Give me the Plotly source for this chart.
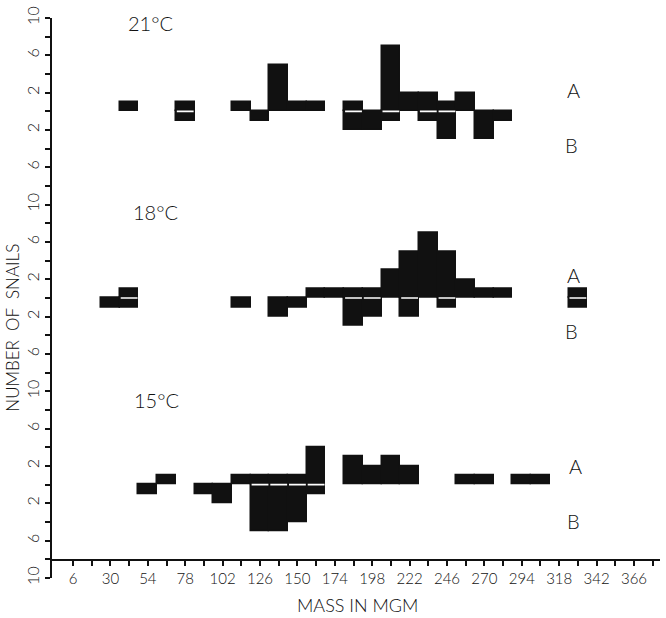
import plotly.graph_objects as go

# ---------------- data (bin centres in mg, bins 12 mg wide) ----------------
bin_width = 12

mass_21 = [42, 78, 114, 126, 138, 150, 162, 186, 198, 210, 222, 234, 246, 258, 270, 282]
a_21 = [1, 1, 1, 0, 5, 1, 1, 1, 0, 7, 2, 2, 1, 2, 0, 0]
b_21 = [0, 1, 0, 1, 0, 0, 0, 2, 2, 1, 0, 1, 3, 0, 3, 1]

mass_18 = [30, 42, 114, 138, 150, 162, 174, 186, 198, 210, 222, 234, 246, 258, 270, 282, 330]
a_18 = [0, 1, 0, 0, 0, 1, 1, 1, 1, 3, 5, 7, 5, 2, 1, 1, 1]
b_18 = [1, 1, 1, 2, 1, 0, 0, 3, 2, 0, 2, 0, 1, 0, 0, 0, 1]

mass_15 = [54, 66, 90, 102, 114, 126, 138, 150, 162, 186, 198, 210, 222, 258, 270, 294, 306]
a_15 = [0, 1, 0, 0, 1, 1, 1, 1, 4, 3, 2, 3, 2, 1, 1, 1, 1]
b_15 = [1, 0, 1, 2, 0, 5, 5, 4, 1, 0, 0, 0, 0, 0, 0, 0, 0]

panels = [("21°C", mass_21, a_21, b_21), ("18°C", mass_18, a_18, b_18), ("15°C", mass_15, a_15, b_15)]

x_tickvals = list(range(6, 379, 12))
x_ticktext = [str(v) if (v - 6) % 24 == 0 else "" for v in x_tickvals]
y_tickvals = list(range(-10, 11, 2))

# ---------------- layout geometry helpers ----------------
W, H = 666, 618
ML, MR, MT, MB = 52, 6, 12, 40
PW, PH = W - ML - MR, H - MT - MB


def px_x(px):
    return (px - ML) / PW


def px_y(py):
    return (H - MB - py) / PH


FONT = "Lato"
WEIGHT = 300
INK = "#111111"

fig = go.Figure()
yaxes = ["y", "y2", "y3"]
for (label, mass, a, b), ya in zip(panels, yaxes):
    fig.add_trace(go.Bar(
        x=mass, y=[v if v else None for v in a], width=bin_width,
        marker=dict(color=INK, line=dict(color=INK, width=1.5)),
        xaxis="x", yaxis=ya, showlegend=False, hoverinfo="skip"))
    fig.add_trace(go.Bar(
        x=mass, y=[-v if v else None for v in b], width=bin_width,
        marker=dict(color=INK, line=dict(color=INK, width=1.5)),
        xaxis="x", yaxis=ya, showlegend=False, hoverinfo="skip"))
    # white separating line where both A and B are present
    sx, sy = [], []
    for m, av, bv in zip(mass, a, b):
        if av and bv:
            sx += [m - bin_width / 2 + 0.6, m + bin_width / 2 - 0.6, None]
            sy += [0, 0, None]
    if sx:
        fig.add_trace(go.Scatter(x=sx, y=sy, mode="lines",
                                 line=dict(color="white", width=1.6),
                                 xaxis="x", yaxis=ya, showlegend=False, hoverinfo="skip"))

xtickfont = dict(family=FONT, size=15, color=INK, weight=WEIGHT)
ytickfont = dict(family=FONT, size=16, color=INK, weight=WEIGHT)
ytick_common = dict(range=[-10, 10], anchor="x", showline=True, linewidth=2, linecolor=INK,
                    ticks="outside", ticklen=5, tickwidth=1.5, tickcolor=INK,
                    tickvals=y_tickvals, tickangle=-90, showgrid=False, zeroline=False,
                    tickfont=ytickfont, fixedrange=True)


def ylabels(last):
    out = []
    for v in y_tickvals:
        if abs(v) in (2, 6):
            out.append(str(abs(v)))
        elif v == 10 or (v == -10 and last):
            out.append("10")
        else:
            out.append("")
    return out


fig.update_layout(
    width=W, height=H,
    margin=dict(l=ML, r=MR, t=MT, b=MB),
    paper_bgcolor="white", plot_bgcolor="white",
    barmode="relative", bargap=0,
    xaxis=dict(range=[-7.5, 382.7], anchor="free", position=(578 - 560) / PH,
               showline=True, linewidth=2, linecolor=INK,
               ticks="outside", ticklen=5, tickwidth=1.5, tickcolor=INK,
               tickvals=x_tickvals, ticktext=x_ticktext, showgrid=False, zeroline=False,
               tickfont=xtickfont, fixedrange=True),
    yaxis=dict(domain=[2 / 3, 1], ticktext=ylabels(False), **ytick_common),
    yaxis2=dict(domain=[1 / 3, 2 / 3], ticktext=ylabels(False), **ytick_common),
    yaxis3=dict(domain=[0, 1 / 3], ticktext=ylabels(True), **ytick_common),
)


def note(text, px, py, size, angle=0):
    return dict(text=text, x=px_x(px), y=px_y(py), xref="paper", yref="paper",
                xanchor="center", yanchor="middle", textangle=angle, showarrow=False,
                font=dict(family=FONT, size=size, color=INK, weight=WEIGHT))


ann = []
title_pos = [(150, 17), (155, 208), (156, 398)]
for (label, *_), (px, py) in zip(panels, title_pos):
    ann.append(note(label, px, py, 20))
ab_pos = [((573, 85), (571, 140)), ((573, 272), (571, 328)), ((575, 465), (573, 520))]
for (pa, pb) in ab_pos:
    ann.append(note("A", pa[0], pa[1], 20))
    ann.append(note("B", pb[0], pb[1], 20))
ann.append(note("NUMBER  OF  SNAILS", 13, 325, 17, angle=-90))
ann.append(note("MASS IN MGM", 357, 605, 18))
fig.update_layout(annotations=ann)

fig.write_html("out.html")
